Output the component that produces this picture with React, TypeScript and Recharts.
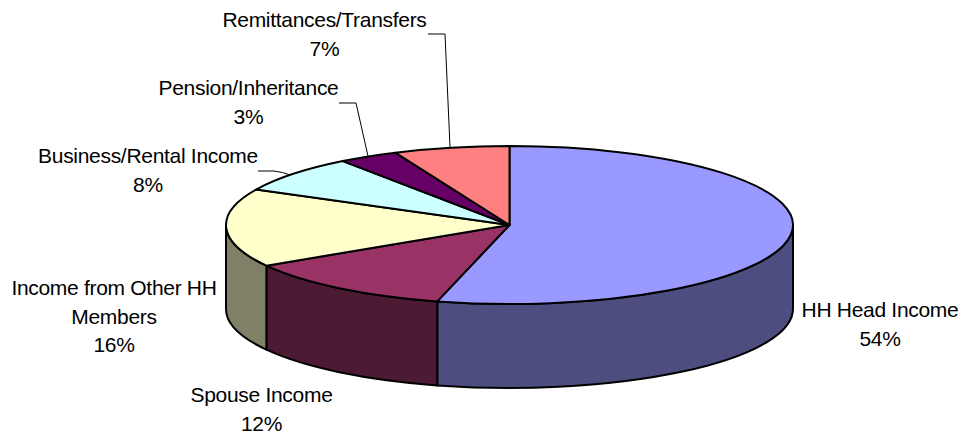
import React from 'react';
import { PieChart, Pie } from 'recharts';

const categories = ['HH Head Income', 'Spouse Income', 'Income from Other HH Members', 'Business/Rental Income', 'Pension/Inheritance', 'Remittances/Transfers'];
const shares = [54.1, 12.3, 16, 7.6, 3.4, 6.6];
const topColors = ['#9999FF', '#993366', '#FFFFCC', '#CCFFFF', '#660066', '#FF8080'];
const sideColors = ['#4D4D80', '#4D1A33', '#808066', '#668080', '#330033', '#804040'];

// label text blocks, one per slice: wrapped lines, centre x, first baseline
const labelLines = [['HH Head Income'], ['Spouse Income'], ['Income from Other HH', 'Members'], ['Business/Rental Income'], ['Pension/Inheritance'], ['Remittances/Transfers']];
const labelX = [880, 261.5, 114, 148, 248.5, 324.5];
const labelY = [317, 402, 295, 163, 95, 27];
const leaders: (string | null)[] = [
  null,
  null,
  null,
  'M258 171 L274 171 Q283 172 290 175',
  'M339 103 L356 103 L368 156',
  'M428 34 L445 34 L450 147',
];

const chartData = categories.map((name, i) => ({ name, value: shares[i], fill: topColors[i], side: sideColors[i] }));

const TILT = 79 / 283.5;
const DEPTH = 84;
const LINE = 28.6;

const SlantedSlice = (props: any) => {
  const { cx, cy, outerRadius: rx, startAngle, endAngle, fill, payload } = props;
  const ry = rx * TILT;
  const at = (deg: number) => {
    const a = (deg * Math.PI) / 180;
    return [cx + rx * Math.cos(a), cy - ry * Math.sin(a)];
  };
  const [x0, y0] = at(startAngle);
  const [x1, y1] = at(endAngle);
  const large = startAngle - endAngle > 180 ? 1 : 0;
  const top = `M${cx} ${cy} L${x0} ${y0} A${rx} ${ry} 0 ${large} 1 ${x1} ${y1} Z`;

  // only the part of the rim facing the viewer gets a wall
  const s = Math.min(startAngle, 0);
  const e = Math.max(endAngle, -180);
  let wall = null;
  if (s > e) {
    const [sx, sy] = at(s);
    const [ex, ey] = at(e);
    wall = (
      <path
        d={`M${sx} ${sy} A${rx} ${ry} 0 0 1 ${ex} ${ey} L${ex} ${ey + DEPTH} A${rx} ${ry} 0 0 0 ${sx} ${sy + DEPTH} Z`}
        fill={payload.side}
        stroke="#000"
        strokeWidth={2}
        strokeLinejoin="round"
      />
    );
  }
  return (
    <g>
      {wall}
      <path d={top} fill={fill} stroke="#000" strokeWidth={2} strokeLinejoin="round" />
    </g>
  );
};

const SliceLabel = (props: any) => {
  const { index, percent } = props;
  const lines = [...labelLines[index], `${Math.round(percent * 100)}%`];
  const leader = leaders[index];
  return (
    <g>
      {leader && <path d={leader} fill="none" stroke="#000" strokeWidth={1} />}
      <text x={labelX[index]} y={labelY[index]} textAnchor="middle" fontFamily="'Liberation Sans', Arial, sans-serif" fontSize={21} letterSpacing={-0.3} fill="#000">
        {lines.map((line, i) => (
          <tspan key={i} x={labelX[index]} y={labelY[index] + i * LINE}>{line}</tspan>
        ))}
      </text>
    </g>
  );
};

export default function App() {
  return (
    <div style={{ position: 'absolute', left: 0, top: 0, width: 966, height: 437, background: '#fff' }}>
      <PieChart width={966} height={437} margin={{ top: 0, right: 0, bottom: 0, left: 0 }}>
        <Pie
          data={chartData}
          dataKey="value"
          nameKey="name"
          cx={509.5}
          cy={225}
          innerRadius={0}
          outerRadius={283.5}
          startAngle={90}
          endAngle={-270}
          paddingAngle={0}
          stroke="#000"
          shape={SlantedSlice}
          label={SliceLabel}
          labelLine={false}
          isAnimationActive={false}
        />
      </PieChart>
    </div>
  );
}
